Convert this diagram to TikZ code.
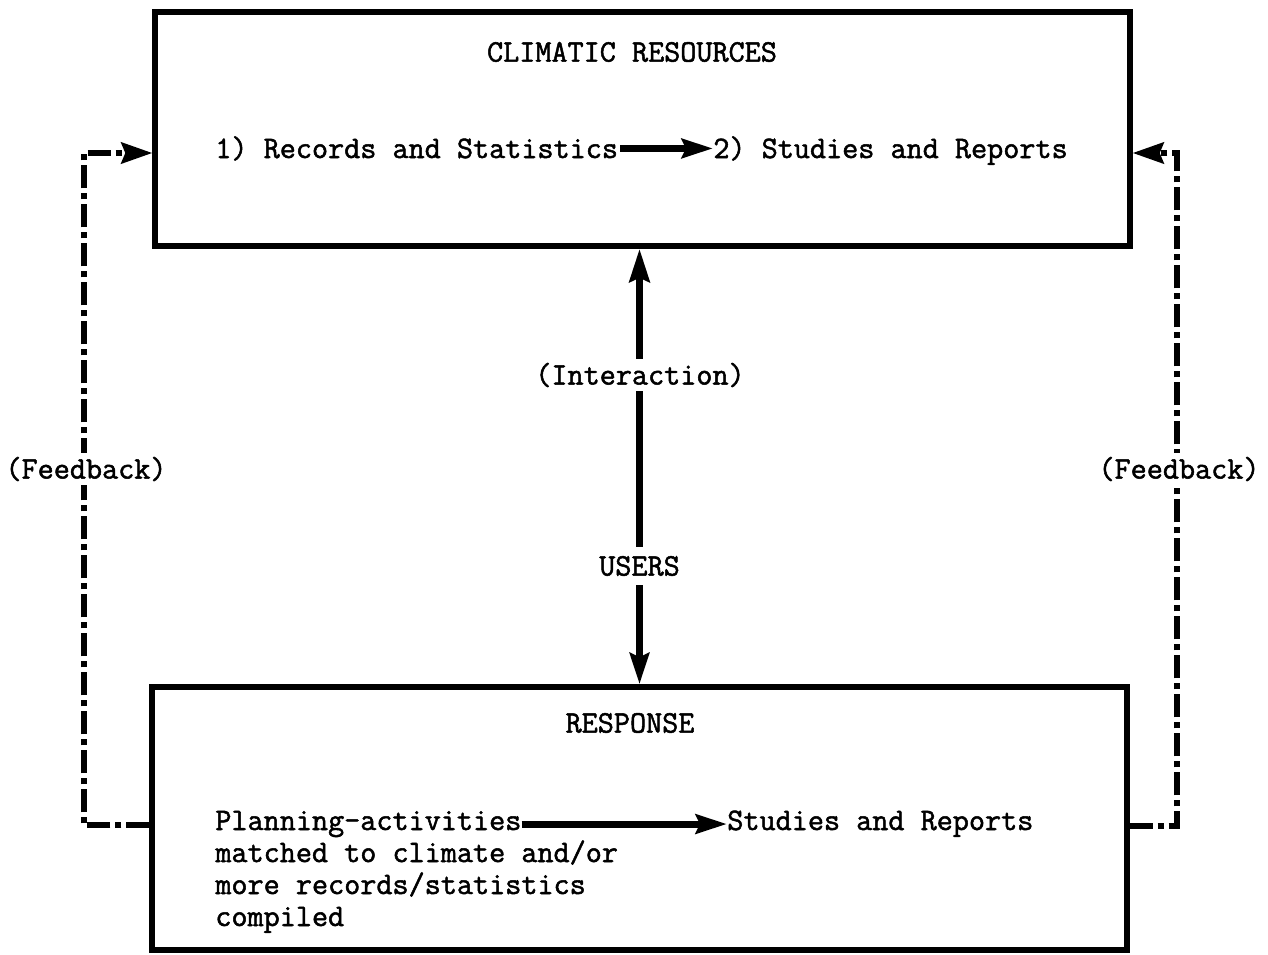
\documentclass[tikz,border=0pt]{standalone}
\usepackage{fontspec}
\setmainfont{Latin Modern Mono}[FakeBold=1.6]
\usetikzlibrary{arrows.meta}
\tikzset{
	box/.style={draw, line width=0.11cm, inner sep=0pt},
	txt/.style={inner sep=0pt, font=\fontsize{17.8}{18.2}\selectfont},
	flow/.style={line width=4pt, -{Stealth[length=0.62cm, width=0.38cm, inset=0.08cm]}},
	feedback/.style={line width=0.11cm, dash pattern=on 0.46cm off 0.1cm on 0.12cm off 0.1cm,
		-{Stealth[length=0.62cm, width=0.42cm, inset=0.08cm]}}
}

\begin{document}
\begin{tikzpicture}[x=0.02cm, y=-0.02cm]
			%%%%% START %%%%%
			\useasboundingbox (0, 0) rectangle (1268, 954);
			
			\node[box, minimum width=19.5cm, minimum height=4.68cm] (climate) at (642.5, 129) {};
			\node[box, minimum width=19.5cm, minimum height=5.26cm] (response) at (639.5, 818.5) {};
			
			\node[txt] (climtitle) at (632, 52) {CLIMATIC RESOURCES};
			\node[txt, anchor=base west] (records) at (215, 158) {1) Records and Statistics};
			\node[txt, anchor=base west] (studies) at (713, 158) {2) Studies and Reports};
			\draw[flow] ([xshift=1pt]records.east) -- (studies.west |- records.east);
			
			\node[txt, inner sep=5pt] (users) at (639.5, 566) {USERS};
			\draw[flow, {Stealth[length=0.66cm, width=0.4cm, inset=0.08cm]}-] (climate.south -| users.north) -- (users.north);
			\node[txt, fill=white, inner sep=2pt] (interaction) at (640, 375) {(Interaction)};
			\draw[flow] (users.south) -- (users.south |- response.north);
			
			\node[txt] (resptitle) at (630, 723) {RESPONSE};
			\node[txt, anchor=base west] (planning) at (215, 830) {Planning-activities};
			\node[txt, anchor=base west, align=left] (planrest) at (215, 926) {matched to climate and/or\\more records/statistics\\compiled};
			\node[txt, anchor=base west] (respstudies) at (727, 830) {Studies and Reports};
			\draw[flow] (planning.east) -- (respstudies.west |- planning.east);
			
			% feedback loops
			\draw[feedback] (response.west |- 0, 825) -| (84, 153) -- (climate.west |- 0, 153);
			\draw[feedback] (response.east |- 0, 826) -| (1177, 153) -- (climate.east |- 0, 153);
			\node[txt, fill=white, inner sep=2pt] (fbleft) at (86, 469) {(Feedback)};
			\node[txt, fill=white, inner sep=2pt] (fbright) at (1179, 469) {(Feedback)};
			
			%%%%% END %%%%%
		\end{tikzpicture}
\end{document}
